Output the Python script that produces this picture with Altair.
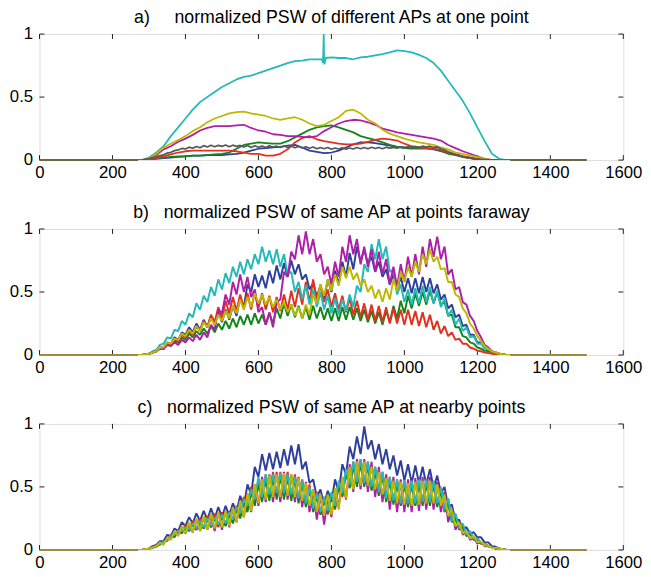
import altair as alt
import pandas as pd

X_TICKS = [0, 200, 400, 600, 800, 1000, 1200, 1400, 1600]
Y_TICKS = [0, 0.5, 1]
TITLES = [
    "a)\u00a0\u00a0\u00a0\u00a0\u00a0normalized PSW of different APs at one point",
    "b)\u00a0\u00a0\u00a0normalized PSW of same AP at points faraway",
    "c)\u00a0\u00a0\u00a0normalized PSW of same AP at nearby points",
]
FLAT_X = [0, 270, 1290, 1500]
FLAT_SEG = [1, 1, 2, 2]

# panel a sampling grid (step 20) and fine grid (step 10)
A_X = [270] + list(range(280, 1300, 20)) + [1290]
N_X = list(range(270, 1300, 10))

# ---------- panel a ----------
A_BLUE = [0, 0, 0.005, 0.01, 0.015, 0.02, 0.025, 0.03, 0.035, 0.035, 0.04, 0.04, 0.04, 0.045, 0.05,
          0.06, 0.075, 0.09, 0.095, 0.10, 0.105, 0.115, 0.12, 0.10, 0.075, 0.065, 0.055, 0.06, 0.075,
          0.10, 0.125, 0.14, 0.14, 0.135, 0.125, 0.115, 0.105, 0.10, 0.10, 0.10, 0.095, 0.085, 0.07,
          0.055, 0.045, 0.03, 0.02, 0.01, 0, 0, 0, 0, 0]
A_GREEN = [0, 0, 0.005, 0.015, 0.02, 0.025, 0.03, 0.03, 0.035, 0.035, 0.04, 0.045, 0.05, 0.06, 0.09,
           0.12, 0.13, 0.14, 0.135, 0.13, 0.13, 0.15, 0.18, 0.21, 0.24, 0.26, 0.27, 0.275, 0.26, 0.24,
           0.22, 0.19, 0.175, 0.16, 0.14, 0.12, 0.105, 0.095, 0.09, 0.09, 0.09, 0.09, 0.075, 0.05,
           0.04, 0.025, 0.015, 0.005, 0, 0, 0, 0, 0]
A_RED = [0, 0, 0.005, 0.015, 0.03, 0.045, 0.06, 0.07, 0.075, 0.075, 0.075, 0.075, 0.075, 0.075, 0.07,
         0.06, 0.05, 0.05, 0.035, 0.035, 0.05, 0.085, 0.14, 0.175, 0.19, 0.165, 0.15, 0.14, 0.13, 0.125,
         0.125, 0.13, 0.145, 0.16, 0.17, 0.165, 0.155, 0.13, 0.11, 0.10, 0.095, 0.09, 0.08, 0.06, 0.045,
         0.03, 0.02, 0.01, 0, 0, 0, 0, 0]
A_CYAN = [0, 0, 0.02, 0.06, 0.11, 0.19, 0.26, 0.33, 0.40, 0.46, 0.50, 0.54, 0.58, 0.61, 0.64, 0.66,
          0.67, 0.69, 0.71, 0.73, 0.75, 0.77, 0.785, 0.79, 0.80, 0.80, 0.79, 0.815, 0.81, 0.81, 0.80,
          0.815, 0.82, 0.83, 0.84, 0.855, 0.87, 0.865, 0.855, 0.835, 0.81, 0.77, 0.71, 0.63, 0.55,
          0.47, 0.37, 0.26, 0.15, 0.05, 0.01, 0, 0]
A_CYAN_SPIKE_X = [774, 777, 779, 781, 784]
A_CYAN_SPIKE_Y = [0.80, 0.77, 1.0, 0.76, 0.81]
A_MAGENTA = [0, 0, 0.01, 0.04, 0.085, 0.11, 0.145, 0.17, 0.20, 0.235, 0.255, 0.27, 0.27, 0.27, 0.275,
             0.28, 0.255, 0.235, 0.225, 0.205, 0.20, 0.19, 0.19, 0.185, 0.18, 0.19, 0.23, 0.26, 0.29,
             0.31, 0.32, 0.315, 0.30, 0.28, 0.25, 0.235, 0.22, 0.21, 0.20, 0.19, 0.18, 0.17, 0.155,
             0.12, 0.095, 0.07, 0.05, 0.03, 0.01, 0, 0, 0, 0]
A_YELLOW = [0, 0, 0.01, 0.05, 0.10, 0.13, 0.16, 0.19, 0.23, 0.26, 0.30, 0.33, 0.35, 0.37, 0.38, 0.385,
            0.37, 0.36, 0.35, 0.33, 0.32, 0.33, 0.34, 0.32, 0.29, 0.27, 0.28, 0.31, 0.34, 0.39, 0.40,
            0.37, 0.32, 0.29, 0.24, 0.21, 0.19, 0.17, 0.155, 0.14, 0.13, 0.12, 0.10, 0.085, 0.06, 0.05,
            0.035, 0.025, 0.01, 0, 0, 0, 0]
A_GRAY = [0, 0, 0.005, 0.01, 0.02, 0.025, 0.035, 0.042, 0.055, 0.062,
          0.075, 0.08, 0.092, 0.088, 0.102, 0.094, 0.108, 0.098, 0.114, 0.104,
          0.118, 0.106, 0.116, 0.108, 0.12, 0.106, 0.118, 0.108, 0.116, 0.104,
          0.116, 0.10, 0.114, 0.102, 0.112, 0.10, 0.114, 0.102, 0.11, 0.10,
          0.112, 0.10, 0.11, 0.098, 0.108, 0.096, 0.106, 0.094, 0.104, 0.09,
          0.10, 0.09, 0.10, 0.086, 0.096, 0.088, 0.098, 0.086, 0.096, 0.088,
          0.10, 0.09, 0.10, 0.09, 0.102, 0.092, 0.10, 0.09, 0.102, 0.094,
          0.10, 0.094, 0.104, 0.096, 0.104, 0.098, 0.106, 0.10, 0.11, 0.102,
          0.11, 0.10, 0.104, 0.09, 0.08, 0.066, 0.055, 0.042, 0.035, 0.026,
          0.02, 0.015, 0.01, 0.008, 0.006, 0.004, 0.003, 0.002, 0.001, 0,
          0, 0, 0]

# ---------- panel b ----------
B_BLUE = [0, 0, 0.005, 0.01, 0.02, 0.03, 0.06, 0.06, 0.10, 0.09,
          0.14, 0.12, 0.18, 0.16, 0.22, 0.18, 0.25, 0.20, 0.28, 0.22,
          0.31, 0.24, 0.34, 0.26, 0.36, 0.28, 0.39, 0.31, 0.46, 0.38,
          0.56, 0.50, 0.64, 0.54, 0.63, 0.53, 0.67, 0.57, 0.71, 0.60,
          0.73, 0.62, 0.75, 0.64, 0.72, 0.60, 0.64, 0.52, 0.57, 0.46,
          0.55, 0.44, 0.60, 0.50, 0.67, 0.56, 0.74, 0.62, 0.81, 0.68,
          0.86, 0.74, 0.84, 0.72, 0.78, 0.66, 0.74, 0.62, 0.68, 0.56,
          0.64, 0.52, 0.62, 0.50, 0.61, 0.49, 0.61, 0.49, 0.62, 0.50,
          0.61, 0.49, 0.56, 0.44, 0.48, 0.37, 0.40, 0.30, 0.32, 0.23,
          0.24, 0.16, 0.16, 0.10, 0.10, 0.06, 0.05, 0.025, 0.02, 0.01,
          0.005, 0, 0]
B_GREEN = [0, 0, 0.005, 0.01, 0.02, 0.03, 0.05, 0.05, 0.08, 0.08,
           0.11, 0.10, 0.14, 0.12, 0.17, 0.14, 0.19, 0.16, 0.21, 0.17,
           0.23, 0.18, 0.25, 0.20, 0.27, 0.21, 0.29, 0.22, 0.31, 0.24,
           0.32, 0.24, 0.33, 0.25, 0.32, 0.24, 0.33, 0.25, 0.37, 0.29,
           0.41, 0.31, 0.40, 0.30, 0.39, 0.29, 0.38, 0.28, 0.39, 0.29,
           0.38, 0.28, 0.37, 0.27, 0.37, 0.27, 0.38, 0.28, 0.38, 0.28,
           0.37, 0.27, 0.36, 0.26, 0.35, 0.25, 0.34, 0.24, 0.35, 0.26,
           0.39, 0.29, 0.43, 0.33, 0.47, 0.37, 0.49, 0.39, 0.50, 0.40,
           0.51, 0.41, 0.50, 0.40, 0.42, 0.31, 0.32, 0.22, 0.22, 0.15,
           0.14, 0.10, 0.09, 0.06, 0.05, 0.035, 0.03, 0.02, 0.015, 0.01,
           0.005, 0, 0]
B_RED = [0, 0, 0.005, 0.01, 0.02, 0.03, 0.05, 0.05, 0.08, 0.08,
         0.12, 0.11, 0.16, 0.14, 0.19, 0.16, 0.23, 0.19, 0.27, 0.22,
         0.32, 0.26, 0.38, 0.29, 0.43, 0.33, 0.46, 0.35, 0.48, 0.37,
         0.49, 0.36, 0.50, 0.37, 0.49, 0.36, 0.47, 0.34, 0.46, 0.35,
         0.48, 0.36, 0.51, 0.38, 0.53, 0.40, 0.58, 0.42, 0.60, 0.44,
         0.56, 0.42, 0.52, 0.38, 0.49, 0.36, 0.47, 0.34, 0.45, 0.32,
         0.43, 0.30, 0.41, 0.28, 0.40, 0.27, 0.39, 0.26, 0.38, 0.25,
         0.37, 0.25, 0.36, 0.24, 0.36, 0.24, 0.35, 0.23, 0.34, 0.22,
         0.32, 0.20, 0.27, 0.17, 0.23, 0.15, 0.18, 0.12, 0.13, 0.09,
         0.09, 0.06, 0.05, 0.035, 0.03, 0.02, 0.015, 0.01, 0.005, 0,
         0, 0, 0]
B_CYAN = [0, 0, 0.005, 0.01, 0.03, 0.04, 0.08, 0.09, 0.14, 0.13,
          0.20, 0.19, 0.27, 0.24, 0.33, 0.30, 0.41, 0.36, 0.47, 0.42,
          0.54, 0.47, 0.60, 0.52, 0.65, 0.57, 0.70, 0.62, 0.74, 0.64,
          0.76, 0.68, 0.80, 0.72, 0.86, 0.74, 0.83, 0.72, 0.84, 0.70,
          0.80, 0.64, 0.66, 0.50, 0.58, 0.44, 0.55, 0.40, 0.52, 0.38,
          0.50, 0.36, 0.47, 0.33, 0.45, 0.32, 0.44, 0.35, 0.48, 0.38,
          0.55, 0.50, 0.72, 0.66, 0.88, 0.76, 0.92, 0.76, 0.86, 0.66,
          0.68, 0.48, 0.56, 0.42, 0.52, 0.40, 0.53, 0.41, 0.55, 0.42,
          0.54, 0.41, 0.51, 0.38, 0.45, 0.31, 0.36, 0.24, 0.29, 0.19,
          0.22, 0.14, 0.15, 0.09, 0.09, 0.05, 0.05, 0.025, 0.02, 0.01,
          0.005, 0, 0]
B_MAGENTA = [0, 0, 0.005, 0.01, 0.02, 0.03, 0.05, 0.05, 0.08, 0.07,
             0.10, 0.08, 0.12, 0.10, 0.14, 0.11, 0.16, 0.12, 0.18, 0.14,
             0.24, 0.20, 0.36, 0.33, 0.48, 0.40, 0.58, 0.48, 0.64, 0.50,
             0.62, 0.46, 0.52, 0.34, 0.38, 0.24, 0.34, 0.22, 0.42, 0.44,
             0.66, 0.62, 0.82, 0.76, 0.95, 0.80, 0.98, 0.80, 0.92, 0.74,
             0.80, 0.64, 0.70, 0.56, 0.74, 0.62, 0.86, 0.74, 0.95, 0.80,
             0.92, 0.72, 0.86, 0.70, 0.84, 0.66, 0.82, 0.64, 0.76, 0.56,
             0.70, 0.54, 0.72, 0.58, 0.78, 0.62, 0.80, 0.64, 0.86, 0.70,
             0.92, 0.78, 0.94, 0.76, 0.86, 0.64, 0.68, 0.52, 0.54, 0.42,
             0.40, 0.31, 0.27, 0.19, 0.14, 0.08, 0.06, 0.03, 0.02, 0.01,
             0.005, 0, 0]
B_YELLOW = [0, 0, 0.005, 0.01, 0.02, 0.03, 0.06, 0.06, 0.10, 0.09,
            0.13, 0.12, 0.17, 0.15, 0.20, 0.17, 0.23, 0.19, 0.26, 0.22,
            0.29, 0.24, 0.32, 0.27, 0.35, 0.29, 0.39, 0.33, 0.44, 0.36,
            0.46, 0.38, 0.49, 0.41, 0.48, 0.40, 0.46, 0.38, 0.44, 0.36,
            0.42, 0.34, 0.40, 0.31, 0.38, 0.29, 0.40, 0.32, 0.48, 0.41,
            0.56, 0.47, 0.60, 0.51, 0.64, 0.55, 0.70, 0.61, 0.70, 0.60,
            0.65, 0.55, 0.60, 0.50, 0.55, 0.45, 0.52, 0.42, 0.53, 0.44,
            0.60, 0.51, 0.66, 0.58, 0.70, 0.62, 0.74, 0.66, 0.80, 0.72,
            0.84, 0.74, 0.78, 0.68, 0.69, 0.58, 0.58, 0.48, 0.46, 0.37,
            0.33, 0.25, 0.21, 0.15, 0.11, 0.07, 0.05, 0.03, 0.02, 0.01,
            0.005, 0, 0]

# ---------- panel c ----------
C_BLUE = [0, 0, 0.005, 0.01, 0.03, 0.04, 0.07, 0.07, 0.12, 0.11,
          0.17, 0.15, 0.22, 0.19, 0.26, 0.21, 0.29, 0.23, 0.31, 0.24,
          0.33, 0.25, 0.34, 0.26, 0.35, 0.27, 0.37, 0.30, 0.43, 0.35,
          0.52, 0.44, 0.66, 0.58, 0.76, 0.63, 0.77, 0.64, 0.78, 0.65,
          0.80, 0.67, 0.83, 0.68, 0.84, 0.64, 0.70, 0.53, 0.56, 0.42,
          0.48, 0.36, 0.47, 0.38, 0.56, 0.46, 0.68, 0.60, 0.82, 0.72,
          0.90, 0.76, 0.98, 0.80, 0.87, 0.72, 0.84, 0.68, 0.80, 0.64,
          0.75, 0.59, 0.71, 0.55, 0.68, 0.53, 0.67, 0.53, 0.66, 0.52,
          0.64, 0.49, 0.59, 0.45, 0.50, 0.34, 0.36, 0.23, 0.24, 0.17,
          0.18, 0.13, 0.14, 0.10, 0.10, 0.06, 0.06, 0.03, 0.025, 0.01,
          0.005, 0, 0]
C_GREEN = [0, 0, 0.005, 0.01, 0.02, 0.025, 0.045, 0.06, 0.08, 0.10,
           0.11, 0.14, 0.14, 0.17, 0.15, 0.20, 0.16, 0.22, 0.17, 0.24,
           0.18, 0.25, 0.19, 0.26, 0.19, 0.28, 0.21, 0.32, 0.25, 0.38,
           0.30, 0.46, 0.35, 0.52, 0.38, 0.56, 0.39, 0.58, 0.40, 0.59,
           0.40, 0.58, 0.39, 0.57, 0.37, 0.53, 0.34, 0.48, 0.30, 0.43,
           0.28, 0.40, 0.29, 0.44, 0.33, 0.52, 0.43, 0.61, 0.49, 0.67,
           0.50, 0.69, 0.50, 0.67, 0.47, 0.63, 0.43, 0.59, 0.38, 0.55,
           0.36, 0.53, 0.35, 0.52, 0.34, 0.52, 0.35, 0.53, 0.35, 0.53,
           0.35, 0.52, 0.34, 0.47, 0.30, 0.37, 0.22, 0.26, 0.16, 0.18,
           0.11, 0.13, 0.08, 0.08, 0.05, 0.045, 0.03, 0.02, 0.01, 0.01,
           0.005, 0, 0]
C_RED = [0, 0, 0.005, 0.01, 0.015, 0.035, 0.04, 0.07, 0.07, 0.12,
         0.10, 0.16, 0.13, 0.20, 0.15, 0.23, 0.16, 0.25, 0.17, 0.27,
         0.18, 0.29, 0.18, 0.30, 0.19, 0.31, 0.22, 0.35, 0.27, 0.42,
         0.32, 0.50, 0.38, 0.56, 0.41, 0.60, 0.42, 0.62, 0.43, 0.62,
         0.44, 0.62, 0.42, 0.60, 0.40, 0.56, 0.36, 0.52, 0.32, 0.46,
         0.28, 0.42, 0.28, 0.44, 0.32, 0.52, 0.42, 0.62, 0.50, 0.70,
         0.52, 0.72, 0.52, 0.70, 0.48, 0.66, 0.44, 0.62, 0.40, 0.58,
         0.38, 0.56, 0.36, 0.55, 0.36, 0.54, 0.36, 0.55, 0.37, 0.55,
         0.37, 0.54, 0.36, 0.50, 0.32, 0.40, 0.24, 0.28, 0.17, 0.20,
         0.12, 0.14, 0.08, 0.09, 0.05, 0.05, 0.03, 0.02, 0.01, 0.01,
         0.005, 0, 0]
C_CYAN = [0, 0, 0.005, 0.01, 0.02, 0.03, 0.045, 0.065, 0.08, 0.11,
          0.12, 0.15, 0.15, 0.18, 0.16, 0.21, 0.17, 0.23, 0.18, 0.25,
          0.19, 0.26, 0.20, 0.28, 0.21, 0.30, 0.24, 0.34, 0.29, 0.40,
          0.35, 0.48, 0.40, 0.58, 0.42, 0.60, 0.44, 0.60, 0.45, 0.61,
          0.45, 0.60, 0.44, 0.58, 0.41, 0.55, 0.37, 0.50, 0.33, 0.45,
          0.30, 0.42, 0.31, 0.46, 0.35, 0.55, 0.45, 0.64, 0.52, 0.70,
          0.54, 0.72, 0.53, 0.70, 0.50, 0.66, 0.46, 0.62, 0.41, 0.58,
          0.39, 0.56, 0.37, 0.55, 0.37, 0.55, 0.37, 0.56, 0.38, 0.56,
          0.38, 0.55, 0.37, 0.50, 0.32, 0.41, 0.23, 0.29, 0.17, 0.21,
          0.12, 0.15, 0.09, 0.09, 0.06, 0.05, 0.03, 0.02, 0.01, 0.01,
          0.005, 0, 0]
C_MAGENTA = [0, 0, 0.005, 0.01, 0.02, 0.03, 0.05, 0.06, 0.09, 0.10,
             0.14, 0.12, 0.18, 0.13, 0.21, 0.14, 0.24, 0.15, 0.26, 0.16,
             0.28, 0.15, 0.30, 0.16, 0.31, 0.18, 0.34, 0.22, 0.38, 0.26,
             0.45, 0.30, 0.52, 0.35, 0.58, 0.38, 0.60, 0.38, 0.62, 0.38,
             0.62, 0.40, 0.60, 0.38, 0.58, 0.34, 0.54, 0.30, 0.48, 0.24,
             0.44, 0.20, 0.42, 0.26, 0.48, 0.34, 0.58, 0.40, 0.68, 0.46,
             0.72, 0.48, 0.72, 0.46, 0.70, 0.42, 0.66, 0.38, 0.60, 0.32,
             0.58, 0.30, 0.56, 0.30, 0.56, 0.30, 0.57, 0.31, 0.58, 0.32,
             0.58, 0.32, 0.54, 0.30, 0.46, 0.22, 0.32, 0.16, 0.22, 0.12,
             0.15, 0.08, 0.10, 0.05, 0.06, 0.03, 0.03, 0.02, 0.01, 0.01,
             0.005, 0, 0]
C_YELLOW = [0, 0, 0.005, 0.01, 0.02, 0.03, 0.06, 0.04, 0.10, 0.08,
            0.15, 0.11, 0.19, 0.13, 0.22, 0.14, 0.25, 0.15, 0.27, 0.16,
            0.29, 0.17, 0.30, 0.18, 0.31, 0.19, 0.34, 0.22, 0.39, 0.26,
            0.45, 0.31, 0.52, 0.37, 0.56, 0.40, 0.59, 0.42, 0.60, 0.42,
            0.61, 0.43, 0.60, 0.42, 0.57, 0.39, 0.53, 0.35, 0.48, 0.30,
            0.44, 0.27, 0.44, 0.28, 0.49, 0.32, 0.58, 0.41, 0.66, 0.48,
            0.70, 0.51, 0.70, 0.51, 0.66, 0.48, 0.62, 0.44, 0.57, 0.39,
            0.55, 0.37, 0.54, 0.36, 0.53, 0.35, 0.54, 0.36, 0.55, 0.37,
            0.55, 0.37, 0.52, 0.35, 0.44, 0.27, 0.32, 0.19, 0.22, 0.13,
            0.15, 0.09, 0.11, 0.06, 0.065, 0.035, 0.035, 0.015, 0.015, 0.01,
            0.005, 0, 0]

BLUE, GREEN, RED, CYAN = "#2e3f9e", "#13861b", "#e2321f", "#25b9b9"
MAGENTA, YELLOW, GRAY = "#b01fa8", "#bdb900", "#575757"

W, H = 593, 128
FONT = "Liberation Sans"

for arr in [A_BLUE, A_GREEN, A_RED, A_CYAN, A_MAGENTA, A_YELLOW]:
    assert len(arr) == len(A_X), len(arr)
for arr in [A_GRAY, B_BLUE, B_GREEN, B_RED, B_CYAN, B_MAGENTA, B_YELLOW,
            C_BLUE, C_GREEN, C_RED, C_CYAN, C_MAGENTA, C_YELLOW]:
    assert len(arr) == len(N_X), len(arr)

xscale = alt.Scale(domain=[0, 1600], nice=False, zero=False)
yscale = alt.Scale(domain=[0, 1], nice=False, zero=False)
xaxis = alt.Axis(values=X_TICKS, ticks=False, tickSize=0, domain=False, grid=False,
                 labelFontSize=17, labelFont=FONT, labelColor="black", labelPadding=5,
                 labelFlush=False, format="d", title=None)
yaxis = alt.Axis(values=Y_TICKS, ticks=False, tickSize=0, domain=False, grid=False,
                 labelFontSize=17, labelFont=FONT, labelColor="black", labelPadding=7,
                 format="~g", title=None)


def line_layer(xs, ys, color, sw):
    df = pd.DataFrame({"x": xs, "y": ys})
    return alt.Chart(df).mark_line(color=color, strokeWidth=sw, clip=True,
                                   strokeJoin="bevel").encode(
        x=alt.X("x:Q", scale=xscale, axis=xaxis),
        y=alt.Y("y:Q", scale=yscale, axis=yaxis),
    )


def tick_layers():
    xt = pd.DataFrame({"x": X_TICKS})
    yt = pd.DataFrame({"y": Y_TICKS})
    xenc = alt.X("x:Q", scale=xscale, axis=xaxis)
    yenc = alt.Y("y:Q", scale=yscale, axis=yaxis)
    rule = dict(color="#222222", strokeWidth=1)
    return [
        alt.Chart(xt).mark_rule(**rule).encode(x=xenc, y=alt.value(H), y2=alt.value(H - 5)),
        alt.Chart(xt).mark_rule(**rule).encode(x=xenc, y=alt.value(0), y2=alt.value(5)),
        alt.Chart(yt).mark_rule(**rule).encode(y=yenc, x=alt.value(0), x2=alt.value(5)),
        alt.Chart(yt).mark_rule(**rule).encode(y=yenc, x=alt.value(W - 5), x2=alt.value(W)),
    ]


def flat_layer(color):
    df = pd.DataFrame({"x": FLAT_X, "y": [0, 0, 0, 0], "seg": FLAT_SEG})
    return alt.Chart(df).mark_line(color=color, strokeWidth=2).encode(
        x=alt.X("x:Q", scale=xscale, axis=xaxis),
        y=alt.Y("y:Q", scale=yscale, axis=yaxis),
        detail="seg:N",
    )


def panel(series, title, flat_color, sw):
    layers = tick_layers()
    for xs, ys, color in series:
        layers.append(line_layer(xs, ys, color, sw))
    layers.append(flat_layer(flat_color))
    return alt.layer(*layers).properties(
        width=W, height=H,
        title=alt.TitleParams(title, fontSize=18, font=FONT, fontWeight="normal",
                              anchor="middle", baseline="alphabetic", offset=-16, color="black"),
    )


cyan_a_x = A_X + A_CYAN_SPIKE_X
cyan_a_y = A_CYAN + A_CYAN_SPIKE_Y

pa = panel([
    (A_X, A_BLUE, BLUE), (A_X, A_GREEN, GREEN), (A_X, A_RED, RED),
    (cyan_a_x, cyan_a_y, CYAN), (A_X, A_MAGENTA, MAGENTA), (A_X, A_YELLOW, YELLOW),
    (N_X, A_GRAY, GRAY),
], TITLES[0], "#6b6646", 1.8)

pb = panel([
    (N_X, B_BLUE, BLUE), (N_X, B_GREEN, GREEN), (N_X, B_RED, RED),
    (N_X, B_CYAN, CYAN), (N_X, B_MAGENTA, MAGENTA), (N_X, B_YELLOW, YELLOW),
], TITLES[1], "#9a8e3e", 2.0)

pc = panel([
    (N_X, C_BLUE, BLUE), (N_X, C_RED, RED), (N_X, C_GREEN, GREEN),
    (N_X, C_MAGENTA, MAGENTA), (N_X, C_CYAN, CYAN), (N_X, C_YELLOW, YELLOW),
], TITLES[2], "#9a8e3e", 2.0)

chart = alt.vconcat(pa, pb, pc, spacing=22).properties(
    padding={"left": 0, "top": -4, "right": 0, "bottom": 0}
).configure_view(stroke="#1a1a1a", strokeWidth=1.2).configure(background="white")

chart.save("out.html", embed_options={"renderer": "svg", "actions": False})
